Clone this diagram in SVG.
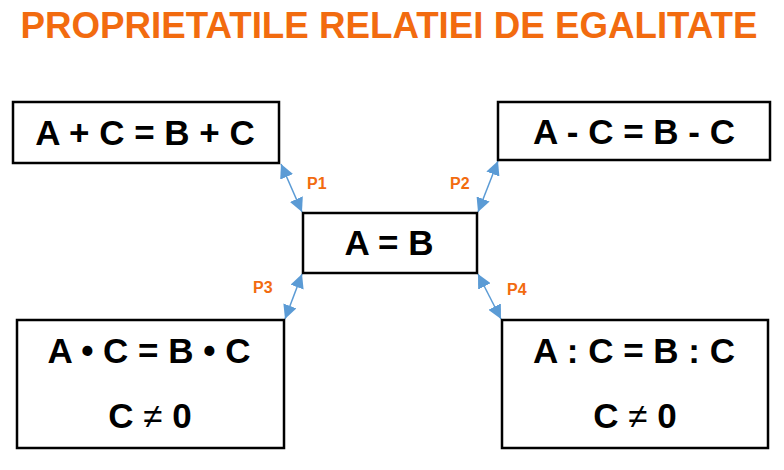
<svg xmlns="http://www.w3.org/2000/svg" width="784" height="470" viewBox="0 0 784 470">
<defs>
<style>
.box{fill:#fff;stroke:#000;stroke-width:2.5}
.t{font-family:"Liberation Sans",Arial,sans-serif;font-weight:bold;fill:#000;text-anchor:middle}
.lbl{font-family:"Liberation Sans",Arial,sans-serif;font-weight:bold;fill:#F26B0F;font-size:16px}
.con{stroke:#5B9BD5;stroke-width:1.5;fill:none;marker-start:url(#ah);marker-end:url(#ah)}
</style>
<marker id="ah" viewBox="0 0 10 10" refX="10" refY="5" markerWidth="14" markerHeight="14" markerUnits="userSpaceOnUse" orient="auto-start-reverse">
<path d="M0,0 L10,5 L0,10 z" fill="#5B9BD5"/>
</marker>
</defs>
<rect width="784" height="470" fill="#fff"/>
<text x="389" y="38" font-family="'Liberation Sans',Arial,sans-serif" font-weight="bold" font-size="37" fill="#F26B0F" text-anchor="middle" textLength="737" lengthAdjust="spacingAndGlyphs">PROPRIETATILE RELATIEI DE EGALITATE</text>
<g id="connectors">
<line class="con" x1="281" y1="164" x2="302" y2="212"/>
<line class="con" x1="478" y1="212" x2="498" y2="161"/>
<line class="con" x1="302" y1="274" x2="285" y2="319"/>
<line class="con" x1="478" y1="274" x2="501" y2="319"/>
<text class="lbl" x="307" y="189">P1</text>
<text class="lbl" x="450" y="189">P2</text>
<text class="lbl" x="253" y="293">P3</text>
<text class="lbl" x="507" y="295">P4</text>
</g>
<g id="n-sum">
<rect class="box" x="13" y="102" width="266" height="61"/>
<text class="t" x="145" y="145" font-size="35">A + C = B + C</text>
</g>
<g id="n-diff">
<rect class="box" x="498" y="102" width="272" height="58"/>
<text class="t" x="634" y="144" font-size="35">A - C = B - C</text>
</g>
<g id="n-center">
<rect class="box" x="303" y="213" width="174" height="60"/>
<text class="t" x="389" y="255" font-size="35">A = B</text>
</g>
<g id="n-prod">
<rect class="box" x="17" y="320" width="267" height="128"/>
<text class="t" x="149" y="363" font-size="35">A • C = B • C</text>
<text class="t" x="150" y="428" font-size="35">C <tspan font-weight="normal">≠</tspan> 0</text>
</g>
<g id="n-quot">
<rect class="box" x="502" y="320" width="266" height="128"/>
<text class="t" x="634" y="363" font-size="35">A : C = B : C</text>
<text class="t" x="635" y="428" font-size="35">C <tspan font-weight="normal">≠</tspan> 0</text>
</g>
</svg>
